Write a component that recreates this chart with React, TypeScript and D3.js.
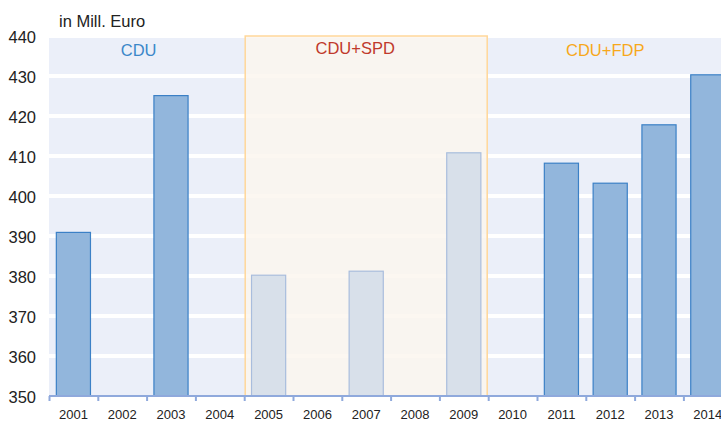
import React, { useEffect, useRef } from 'react';
import * as d3 from 'd3';

const years = ['2001', '2002', '2003', '2004', '2005', '2006', '2007', '2008', '2009', '2010', '2011', '2012', '2013', '2014'];
const values: (number | null)[] = [390.9, null, 425.1, null, 380.2, null, 381.2, null, 410.8, null, 408.2, 403.2, 417.8, 430.3];
const yTicks = [350, 360, 370, 380, 390, 400, 410, 420, 430, 440];
const periodNames = ['CDU', 'CDU+SPD', 'CDU+FDP'];
const periodFrom = ['2001', '2005', '2010'];
const periodTo = ['2004', '2009', '2014'];
const periodColors = ['#3b87c9', '#c0392b', '#f7a81b'];
const shadedPeriod = 'CDU+SPD';

const App: React.FC = () => {
  const svgRef = useRef<SVGSVGElement>(null);

  useEffect(() => {
    if (!svgRef.current) return;
    const svg = d3.select(svgRef.current);
    svg.selectAll('*').remove();

    const left = 49;
    const top = 36;
    const bottom = 396;
    const step = 48.8;
    const font = 'Arial, "Liberation Sans", sans-serif';

    const x = d3.scaleBand<string>()
      .domain(years)
      .range([left, left + step * years.length])
      .paddingInner(0.28)
      .paddingOuter(0.14);
    const y = d3.scaleLinear().domain([350, 440]).range([bottom, top]);
    const pad = (x.step() - x.bandwidth()) / 2;
    const bandStart = (d: string) => (x(d) as number) - pad;
    const bandEnd = (d: string) => (x(d) as number) + x.bandwidth() + pad;

    // plot background
    svg.append('rect')
      .attr('x', left).attr('y', top)
      .attr('width', 721 - left).attr('height', bottom - top)
      .attr('fill', '#ebeff9');

    // grid
    svg.append('g')
      .selectAll('line')
      .data(yTicks.slice(1))
      .join('line')
      .attr('x1', left).attr('x2', 721)
      .attr('y1', d => y(d)).attr('y2', d => y(d))
      .attr('stroke', '#ffffff')
      .attr('stroke-width', 4);

    // coalition period shading
    periodNames.forEach((name, i) => {
      if (name !== shadedPeriod) return;
      const x0 = bandStart(periodFrom[i]);
      const x1 = bandEnd(periodTo[i]);
      svg.append('rect')
        .attr('x', x0 + 1).attr('y', top)
        .attr('width', x1 - x0 - 2).attr('height', bottom - top)
        .attr('fill', '#fbf6ef')
        .attr('fill-opacity', 0.85)
        .attr('stroke', '#ffd79a')
        .attr('stroke-width', 1.5);
    });

    // period labels
    const labelShift = [-8, -11, -5];
    periodNames.forEach((name, i) => {
      const cx = (bandStart(periodFrom[i]) + bandEnd(periodTo[i])) / 2 + labelShift[i];
      svg.append('text')
        .attr('x', cx).attr('y', i === 1 ? 54 : 56)
        .attr('text-anchor', 'middle')
        .attr('font-family', font)
        .attr('font-size', 16.5)
        .attr('fill', periodColors[i])
        .text(name);
    });

    // bars
    const shIdx = periodNames.indexOf(shadedPeriod);
    const inShaded = (d: string) => +d >= +periodFrom[shIdx] && +d <= +periodTo[shIdx];
    const barData = years.map((yr, i) => ({ yr, v: values[i] })).filter(d => d.v !== null) as { yr: string; v: number }[];
    svg.append('g')
      .selectAll('rect')
      .data(barData)
      .join('rect')
      .attr('x', d => (x(d.yr) as number) + 0.5)
      .attr('y', d => y(d.v))
      .attr('width', x.bandwidth() - 1)
      .attr('height', d => bottom - y(d.v))
      .attr('fill', d => (inShaded(d.yr) ? '#d8e0ea' : '#92b6dc'))
      .attr('stroke', d => (inShaded(d.yr) ? '#a9bddd' : '#3b80c6'))
      .attr('stroke-width', 1.2);

    // x axis
    svg.append('line')
      .attr('x1', left).attr('x2', 721)
      .attr('y1', bottom).attr('y2', bottom)
      .attr('stroke', '#8fa9dc')
      .attr('stroke-width', 2);
    svg.append('g')
      .selectAll('line')
      .data(years)
      .join('line')
      .attr('x1', d => bandStart(d) + 0.5).attr('x2', d => bandStart(d) + 0.5)
      .attr('y1', bottom).attr('y2', bottom + 5)
      .attr('stroke', '#8fa9dc')
      .attr('stroke-width', 2);
    svg.append('g')
      .selectAll('text')
      .data(years)
      .join('text')
      .attr('x', d => (x(d) as number) + x.bandwidth() / 2)
      .attr('y', 419)
      .attr('text-anchor', 'middle')
      .attr('font-family', font)
      .attr('font-size', 13)
      .attr('fill', '#222')
      .text(d => d);

    // y labels
    svg.append('g')
      .selectAll('text')
      .data(yTicks)
      .join('text')
      .attr('x', 36)
      .attr('y', d => y(d) + 6.5)
      .attr('text-anchor', 'end')
      .attr('font-family', font)
      .attr('font-size', 16.5)
      .attr('fill', '#222')
      .text(d => d);

    svg.append('text')
      .attr('x', 59).attr('y', 27)
      .attr('font-family', font)
      .attr('font-size', 16.5)
      .attr('fill', '#222')
      .text('in Mill. Euro');
  }, []);

  return (
    <svg
      ref={svgRef}
      width={721}
      height={421}
      style={{ position: 'absolute', left: 0, top: 0, background: '#fff' }}
    />
  );
};

export default App;
